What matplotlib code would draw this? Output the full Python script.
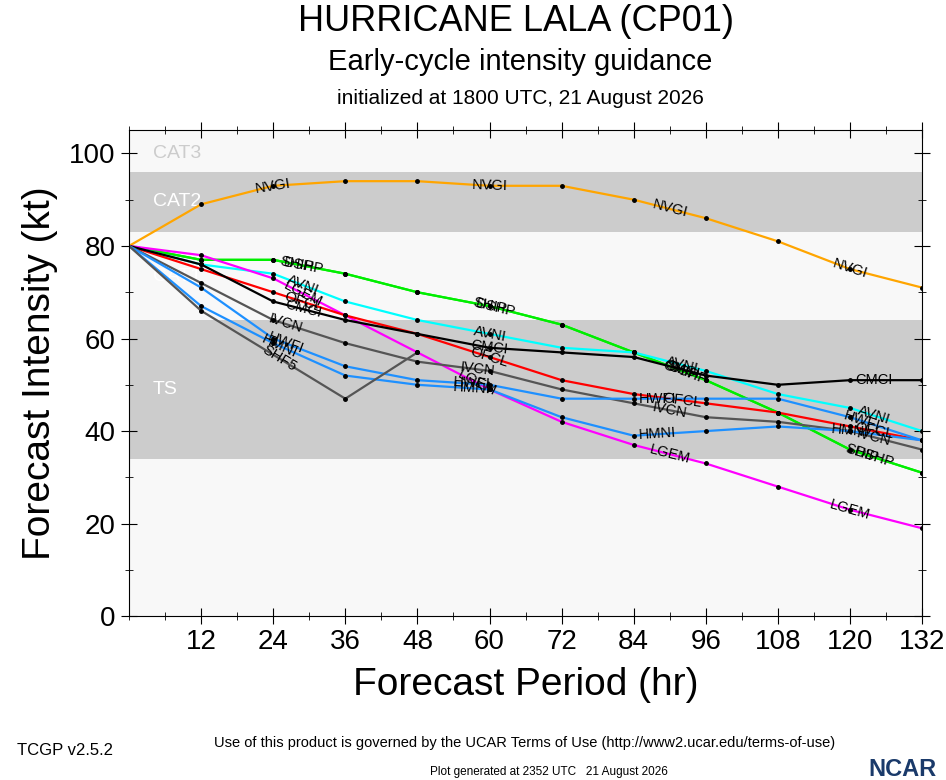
import numpy as np
import matplotlib
matplotlib.use("Agg")
import matplotlib.pyplot as plt

plt.rcParams['font.family'] = ['Liberation Sans', 'DejaVu Sans']

hours = [0, 12, 24, 36, 48, 60, 72, 84, 96, 108, 120, 132]

nvgi = [80, 89, 93, 94, 94, 93, 93, 90, 86, 81, 75, 71]
dshp = [80, 77, 77, 74, 70, 67, 63, 57, 51, 44, 36, 31]
shps = [80, 77, 77, 74, 70, 67, 63, 57, 51, 44, 36, 31]
avni = [80, 76, 74, 68, 64, 61, 58, 57, 53, 48, 45, 40]
lgem = [80, 78, 73, 65, 57, 49, 42, 37, 33, 28, 23, 19]
ofcl = [80, 75, 70, 65, 61, 56, 51, 48, 46, 44, 41, 38]
cmci = [80, 76, 68, 64, 61, 58, 57, 56, 52, 50, 51, 51]
ivcn = [80, 72, 64, 59, 55, 53, 49, 46, 43, 42, 40, 36]
hwfi = [80, 71, 60, 54, 51, 50, 47, 47, 47, 47, 43, 38]
hmni = [80, 67, 59, 52, 50, 49, 43, 39, 40, 41, 40, 38]
shf5_hours = [0, 12, 36, 48]
shf5 = [80, 66, 47, 57]

series = [
    ("NVGI", hours, nvgi, "#ffa500"),
    ("SHIP", hours, shps, "#00ee00"),
    ("DSHP", hours, dshp, "#00ee00"),
    ("AVNI", hours, avni, "#00ffff"),
    ("LGEM", hours, lgem, "#ff00ff"),
    ("OFCL", hours, ofcl, "#ff0000"),
    ("CMCI", hours, cmci, "#000000"),
    ("IVCN", hours, ivcn, "#555555"),
    ("HWFI", hours, hwfi, "#1e90ff"),
    ("HMNI", hours, hmni, "#1e90ff"),
    ("SHF5", shf5_hours, shf5, "#555555"),
]
label_hours = {"NVGI": [24, 60, 90, 120], "SHIP": [28, 60, 92, 122],
               "DSHP": [29, 61, 93, 124], "AVNI": [29, 60, 92, 124],
               "LGEM": [29, 58, 90, 120], "OFCL": [29, 60, 92, 124],
               "CMCI": [29, 60, 92, 124], "IVCN": [26, 58, 90, 124],
               "HWFI": [26, 57, 88, 122], "HMNI": [25, 57, 88, 120],
               "SHF5": [25]}

bands = [(0, 34, "#f8f8f8", ""), (34, 64, "#cccccc", "TS"), (64, 83, "#f8f8f8", "CAT1"),
         (83, 96, "#cccccc", "CAT2"), (96, 105, "#f8f8f8", "CAT3")]

fig = plt.figure(figsize=(9.46, 7.8), dpi=100)
ax = fig.add_axes([0.1364, 0.21, 0.8383, 0.623])
ax.set_xlim(0, 132)
ax.set_ylim(0, 105)
for lo, hi, c, name in bands:
    ax.axhspan(lo, hi, color=c, zorder=0, lw=0)
    if name:
        ax.text(4, (lo + hi) / 2 if name != "CAT3" else 100, name,
                color="white" if name != "CAT3" else "#cccccc",
                fontsize=14, va="center", zorder=1)

fig.canvas.draw()
for name, hx, vals, col in series:
    ax.plot(hx, vals, color=col, lw=1.6, zorder=2)
    ax.plot(hx[1:], vals[1:], "o", color="black", ms=2.5, zorder=3)
    for lh in label_hours[name]:
        if lh > hx[-1]:
            continue
        ly = np.interp(lh, hx, vals)
        p1 = ax.transData.transform((lh - 2, np.interp(lh - 2, hx, vals)))
        p2 = ax.transData.transform((lh + 2, np.interp(lh + 2, hx, vals)))
        ang = np.degrees(np.arctan2(p2[1] - p1[1], p2[0] - p1[0]))
        ax.text(lh, ly, name, fontsize=10.5, rotation=ang, rotation_mode="anchor",
                ha="center", va="center", zorder=4)

ax.set_xticks(range(12, 133, 12))
ax.set_xticks(range(0, 133, 6), minor=True)
ax.set_yticks(range(0, 101, 20))
ax.set_yticks(range(0, 101, 10), minor=True)
ax.tick_params(which="both", direction="inout", top=True, right=True, labelsize=20)
ax.tick_params(which="major", length=12)
ax.tick_params(which="minor", length=6)
ax.set_xlabel("Forecast Period (hr)", fontsize=28, labelpad=8)
ax.set_ylabel("Forecast Intensity (kt)", fontsize=28, labelpad=8)

fig.text(0.545, 0.972, "HURRICANE LALA (CP01)", ha="center", va="center", fontsize=26)
fig.text(0.55, 0.92, "Early-cycle intensity guidance", ha="center", va="center", fontsize=21)
fig.text(0.55, 0.874, "initialized at 1800 UTC, 21 August 2026", ha="center", va="center", fontsize=15)
fig.text(0.555, 0.048, "Use of this product is governed by the UCAR Terms of Use (http://www2.ucar.edu/terms-of-use)",
         ha="center", va="center", fontsize=10.5)
fig.text(0.58, 0.01, "Plot generated at 2352 UTC   21 August 2026", ha="center", va="center", fontsize=8.5)
fig.text(0.018, 0.038, "TCGP v2.5.2", ha="left", va="center", fontsize=12)
fig.text(0.99, 0.014, "NCAR", ha="right", va="center", fontsize=17, fontweight="bold", color="#1a3a6a")

fig.savefig("out.png", dpi=100)
